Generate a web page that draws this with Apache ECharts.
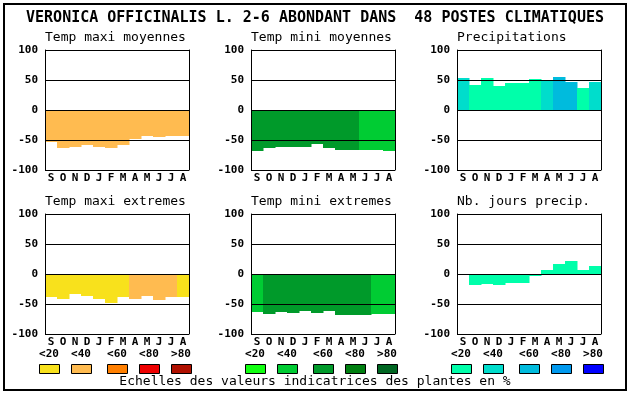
<!DOCTYPE html>
<html>
<head>
<meta charset="utf-8">
<script src="https://cdn.jsdelivr.net/npm/echarts@6/dist/echarts.min.js"></script>
<style>
html,body{margin:0;padding:0;background:#fff;}
#chart{width:630px;height:394px;}
</style>
</head>
<body>
<div id="chart"></div>
<script>
const mainTitle = 'VERONICA OFFICINALIS L. 2-6 ABONDANT DANS  48 POSTES CLIMATIQUES';
const months = ['S','O','N','D','J','F','M','A','M','J','J','A'];
const yMin = -100, yMax = 100, yStep = 50;
const scaleLabels = ['<20','<40','<60','<80','>80'];
const scaleCaption = 'Echelles des valeurs indicatrices des plantes en %';
const warmColors = ['#F8E11C','#FFBB50','#FF7F00','#EE0000','#B01000'];
const greenColors = ['#11FF11','#00CC33','#009A2A','#007F10','#006622'];
const blueColors = ['#00FFAA','#00DDCC','#00BBDD','#0099EE','#0000FF'];

const panelTitles = ['Temp maxi moyennes','Temp mini moyennes','Precipitations',
                     'Temp maxi extremes','Temp mini extremes','Nb. jours precip.'];

const tmaxMoyValues = [-53,-64,-61,-58,-61,-64,-58,-48,-43,-45,-43,-43];
const tmaxMoyClass  = [1,1,1,1,1,1,1,1,1,1,1,1];
const tminMoyValues = [-68,-64,-61,-61,-61,-56,-63,-66,-66,-66,-66,-68];
const tminMoyClass  = [2,2,2,2,2,2,2,2,2,1,1,1];
const precipValues  = [53,42,53,40,45,45,52,50,55,47,37,47];
const precipClass   = [1,0,0,0,0,0,0,1,2,2,0,1];
const tmaxExtValues = [-38,-42,-33,-37,-42,-48,-38,-42,-37,-43,-38,-38];
const tmaxExtClass  = [0,0,0,0,0,0,0,1,1,1,1,0];
const tminExtValues = [-63,-67,-63,-65,-62,-65,-62,-68,-68,-68,-67,-67];
const tminExtClass  = [1,2,2,2,2,2,2,2,2,2,1,1];
const nbJoursValues = [-2,-18,-16,-18,-15,-15,-3,6,17,22,7,14];
const nbJoursClass  = [0,0,0,0,0,0,0,0,0,0,0,0];

const panels = [
  {values: tmaxMoyValues, cls: tmaxMoyClass, pal: warmColors},
  {values: tminMoyValues, cls: tminMoyClass, pal: greenColors},
  {values: precipValues,  cls: precipClass,  pal: blueColors},
  {values: tmaxExtValues, cls: tmaxExtClass, pal: warmColors},
  {values: tminExtValues, cls: tminExtClass, pal: greenColors},
  {values: nbJoursValues, cls: nbJoursClass, pal: blueColors}
];
const palettes = [warmColors, greenColors, blueColors];

const FONT = '"DejaVu Sans Mono", "Liberation Mono", monospace';
const colLeft = [45, 251, 457];
const rowTop = [50, 214];
const plotW = 144, plotH = 120;

const grids = [], xAxes = [], yAxes = [], series = [], titles = [];
panels.forEach((p, i) => {
  const col = i % 3, row = Math.floor(i / 3);
  grids.push({left: colLeft[col], top: rowTop[row], width: plotW, height: plotH, containLabel: false});
  titles.push({
    text: panelTitles[i], left: colLeft[col] - 5, top: rowTop[row] - 24,
    textStyle: {fontFamily: FONT, fontSize: 13, fontWeight: 'normal', color: '#000'}
  });
  xAxes.push({
    type: 'category', gridIndex: i, data: months,
    axisLine: {show: false}, axisTick: {show: false},
    axisLabel: {interval: 0, margin: 3, fontFamily: FONT, fontSize: 11, fontWeight: 'bold', color: '#000'}
  });
  yAxes.push({
    type: 'value', gridIndex: i, min: yMin, max: yMax, interval: yStep, z: 10,
    axisLine: {show: true, lineStyle: {color: '#000', width: 1}},
    axisTick: {show: false},
    splitLine: {show: true, lineStyle: {color: '#000', width: 1}},
    axisLabel: {margin: 7, fontFamily: FONT, fontSize: 11, fontWeight: 'bold', color: '#000'}
  });
  yAxes.push({
    type: 'value', gridIndex: i, min: yMin, max: yMax, interval: yStep, z: 10, position: 'right',
    axisLine: {show: true, lineStyle: {color: '#000', width: 1}},
    axisTick: {show: false}, splitLine: {show: false}, axisLabel: {show: false}
  });
  series.push({
    type: 'custom', xAxisIndex: i, yAxisIndex: i * 2, silent: true, animation: false,
    data: p.values.map((v, k) => [k, v, p.cls[k]]),
    encode: {x: 0, y: 1},
    renderItem: (params, api) => {
      const k = api.value(0), v = api.value(1);
      const top = api.coord([k, v]);
      const base = api.coord([k, 0]);
      const bw = api.size([1, 0])[0];
      const x0 = Math.round(top[0] - bw / 2);
      const x1 = Math.round(top[0] + bw / 2);
      const y0 = Math.round(Math.min(top[1], base[1]));
      const y1 = Math.round(Math.max(top[1], base[1]));
      return {
        type: 'rect',
        shape: {x: x0, y: y0, width: x1 - x0 + 0.5, height: y1 - y0},
        style: {fill: p.pal[api.value(2)]}
      };
    }
  });
});

titles.push({
  text: mainTitle, left: 'center', top: 6,
  textStyle: {fontFamily: FONT, fontSize: 15, fontWeight: 'bold', color: '#000'}
});

const graphics = [
  {type: 'rect', shape: {x: 4, y: 4, width: 622, height: 386}, style: {fill: 'none', stroke: '#000', lineWidth: 2}, silent: true, z: 0}
];
const boxOffsets = [0, 32, 68, 100, 132];
palettes.forEach((pal, g) => {
  pal.forEach((c, k) => {
    const x = 39 + g * 206 + boxOffsets[k];
    graphics.push({type: 'rect', shape: {x: x + 0.5, y: 364.5, width: 20, height: 9},
      style: {fill: c, stroke: '#000', lineWidth: 1}, silent: true});
    graphics.push({type: 'text', x: x + 10, y: 354,
      style: {text: scaleLabels[k], x: 0, y: 0, align: 'center', verticalAlign: 'middle',
        font: 'bold 11px ' + FONT, fill: '#000'}, silent: true});
  });
});
graphics.push({type: 'text', x: 315, y: 382,
  style: {text: scaleCaption, align: 'center', verticalAlign: 'middle', font: '13px ' + FONT, fill: '#000'}, silent: true});

const chart = echarts.init(document.getElementById('chart'), null, {renderer: 'canvas'});
chart.setOption({
  backgroundColor: '#fff',
  animation: false,
  title: titles,
  grid: grids,
  xAxis: xAxes,
  yAxis: yAxes,
  series: series,
  graphic: graphics
});
</script>
</body>
</html>
